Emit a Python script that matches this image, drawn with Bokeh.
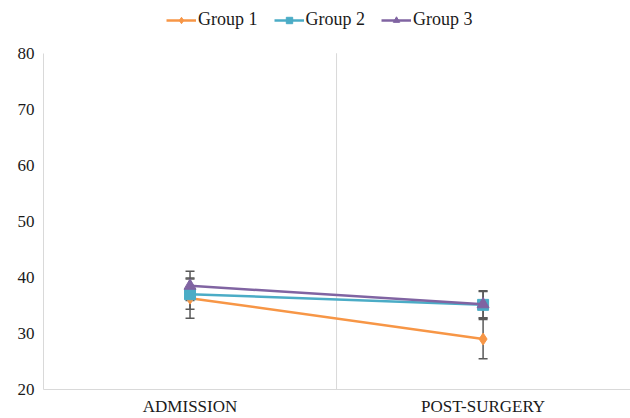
from bokeh.plotting import figure
from bokeh.models import ColumnDataSource, Whisker, TeeHead, Legend, LegendItem, FixedTicker, Range1d
from bokeh.embed import file_html
from bokeh.resources import INLINE

categories = ["ADMISSION", "POST-SURGERY"]
group_names = ["Group 1", "Group 2", "Group 3"]
g1 = [36.3, 29.0]
g1_err = [3.6, 3.5]
g2 = [37.0, 35.1]
g2_err = [2.7, 2.4]
g3 = [38.5, 35.2]
g3_err = [2.6, 2.4]
y_ticks = [20, 30, 40, 50, 60, 70, 80]
y_min, y_max = 20, 80

colors = ["#F79646", "#4BACC6", "#8064A2"]
markers = ["diamond", "square", "triangle"]
msizes = [12, 11, 12]
xpos = [0.5, 1.5]

# frame spans the whole height above the x axis; y axis line is bounded to 20..80
frame_bottom = 391
frame_top_pad = 53
frame_h = frame_bottom - frame_top_pad
y_top = y_min + frame_bottom * (y_max - y_min) / frame_h

p = figure(width=630, height=418, output_backend="svg", toolbar_location=None,
           x_range=Range1d(0, 2.003), y_range=Range1d(y_min, y_top),
           min_border_left=43, min_border_right=0, min_border_top=0,
           min_border_bottom=418 - frame_bottom)
p.outline_line_color = None
p.background_fill_color = "white"
p.border_fill_color = "white"
p.xgrid.visible = False
p.ygrid.visible = False

# category divider line (between the two categories)
p.segment(x0=[1], y0=[y_min], x1=[1], y1=[y_max], line_color="#d9d9d9", line_width=1)

p.xaxis.ticker = FixedTicker(ticks=xpos)
p.xaxis.major_label_overrides = {xpos[i]: categories[i] for i in range(2)}
p.yaxis.ticker = FixedTicker(ticks=y_ticks)
p.yaxis.bounds = (y_min, y_max)
for ax in (p.xaxis, p.yaxis):
    ax.axis_line_color = "#d9d9d9"
    ax.major_tick_line_color = None
    ax.minor_tick_line_color = None
    ax.major_tick_out = 0
    ax.major_tick_in = 0
    ax.minor_tick_out = 0
    ax.minor_tick_in = 0
    ax.major_label_text_font = "Liberation Serif"
    ax.major_label_text_font_size = "17px"
    ax.major_label_text_color = "#1a1a1a"
p.xaxis.major_label_standoff = 7
p.yaxis.major_label_standoff = 9

series = [(g1, g1_err), (g2, g2_err), (g3, g3_err)]
for vals, errs in series:
    src = ColumnDataSource(dict(x=xpos, lo=[v - e for v, e in zip(vals, errs)],
                                hi=[v + e for v, e in zip(vals, errs)]))
    w = Whisker(source=src, base="x", upper="hi", lower="lo", line_color="#595959", line_width=1.5,
                upper_head=TeeHead(size=9, line_color="#595959", line_width=1.5),
                lower_head=TeeHead(size=9, line_color="#595959", line_width=1.5))
    p.add_layout(w)

items = []
for i, (vals, errs) in enumerate(series):
    src = ColumnDataSource(dict(x=xpos, y=vals))
    l = p.line("x", "y", source=src, line_color=colors[i], line_width=2.5)
    s = p.scatter("x", "y", source=src, marker=markers[i], size=msizes[i],
                  fill_color=colors[i], line_color=colors[i])
    items.append(LegendItem(label=group_names[i], renderers=[l, s]))

legend = Legend(items=items, orientation="horizontal", location=(123, 359),
                label_text_font="Liberation Serif", label_text_font_size="18px",
                label_text_color="#1a1a1a", glyph_width=30, glyph_height=16,
                spacing=16, label_standoff=2, border_line_color=None,
                background_fill_alpha=0, margin=0, padding=4)
p.add_layout(legend, "center")

open("out.html", "w").write(file_html(p, INLINE))
